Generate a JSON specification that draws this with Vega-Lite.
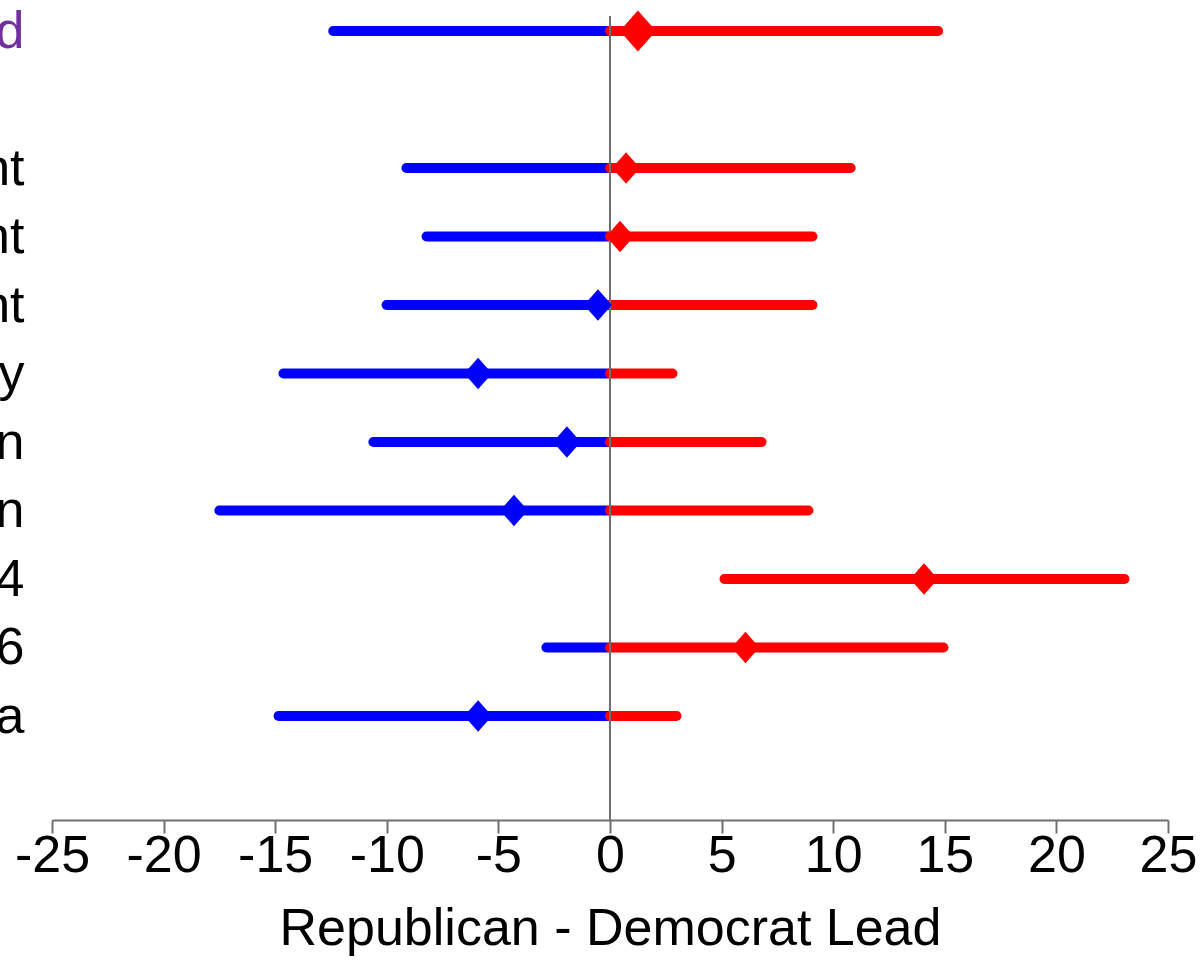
{
  "$schema": "https://vega.github.io/schema/vega-lite/v6.json",
  "autosize": {"type": "none"},
  "padding": {"left": 52, "top": 16, "right": 33, "bottom": 140},
  "width": 1116,
  "height": 804,
  "background": "#ffffff",
  "config": {
    "view": {"stroke": null},
    "font": "Liberation Sans"
  },
  "data": {
    "values": [
      {"race": "Combined", "group": "Combined", "lo": -12.4, "hi": 14.7, "est": 1.25},
      {"race": "Generic Ballot Environment", "group": "Race", "lo": -9.12, "hi": 10.78, "est": 0.72},
      {"race": "Presidential Environment", "group": "Race", "lo": -8.22, "hi": 9.07, "est": 0.45},
      {"race": "Congressional Environment", "group": "Race", "lo": -10.01, "hi": 9.07, "est": -0.54},
      {"race": "Kentucky", "group": "Race", "lo": -14.63, "hi": 2.8, "est": -5.91},
      {"race": "Wisconsin", "group": "Race", "lo": -10.6, "hi": 6.79, "est": -1.93},
      {"race": "Michigan", "group": "Race", "lo": -17.5, "hi": 8.89, "est": -4.3},
      {"race": "Kansas 4", "group": "Race", "lo": 5.13, "hi": 23.05, "est": 14.07},
      {"race": "Georgia 6", "group": "Race", "lo": -2.85, "hi": 14.94, "est": 6.07},
      {"race": "Alabama", "group": "Race", "lo": -14.85, "hi": 2.98, "est": -5.91}
    ]
  },
  "layer": [
    {
      "transform": [{"filter": "datum.lo < 0"}],
      "mark": {"type": "rule", "color": "#0000FF", "strokeWidth": 10, "strokeCap": "round"},
      "encoding": {
        "y": {
          "field": "race", "type": "nominal",
          "scale": {
            "type": "point",
            "padding": 0,
            "domain": ["Combined", " ", "Generic Ballot Environment", "Presidential Environment", "Congressional Environment", "Kentucky", "Wisconsin", "Michigan", "Kansas 4", "Georgia 6", "Alabama"],
            "range": [15, 700]
          },
          "axis": {
            "title": null,
            "domain": false,
            "ticks": false,
            "grid": false,
            "labelPadding": 28,
            "labelFont": "Liberation Sans",
            "labelFontSize": 52,
            "labelAlign": "right",
            "labelBaseline": "middle",
            "labelLimit": 0,
            "labelOverlap": false,
            "labelColor": {"condition": {"test": "datum.value == 'Combined'", "value": "#7030A0"}, "value": "#000000"}
          }
        },
        "x": {
          "field": "lo", "type": "quantitative",
          "scale": {"domain": [-25, 25], "nice": false, "zero": false},
          "axis": {
            "title": "Republican - Democrat Lead",
            "values": [-25, -20, -15, -10, -5, 0, 5, 10, 15, 20, 25],
            "labelExpr": "'' + datum.value",
            "grid": false,
            "domainColor": "#707070",
            "domainWidth": 2,
            "tickColor": "#707070",
            "tickWidth": 2,
            "tickSize": 13,
            "labelFont": "Liberation Sans",
            "labelFontSize": 52,
            "labelColor": "#000000",
            "labelPadding": -3,
            "labelFlush": false,
            "labelOverlap": false,
            "titleFont": "Liberation Sans",
            "titleFontSize": 52,
            "titleFontWeight": "normal",
            "titleColor": "#000000",
            "titlePadding": 22
          }
        },
        "x2": {"datum": 0}
      }
    },
    {
      "transform": [{"filter": "datum.lo < 0"}],
      "mark": {"type": "rule", "color": "#FF0000", "strokeWidth": 10, "strokeCap": "round"},
      "encoding": {
        "y": {"field": "race", "type": "nominal"},
        "x": {"field": "hi", "type": "quantitative"},
        "x2": {"datum": 0}
      }
    },
    {
      "transform": [{"filter": "datum.lo >= 0"}],
      "mark": {"type": "rule", "color": "#FF0000", "strokeWidth": 10, "strokeCap": "round"},
      "encoding": {
        "y": {"field": "race", "type": "nominal"},
        "x": {"field": "lo", "type": "quantitative"},
        "x2": {"field": "hi"}
      }
    },
    {
      "data": {"values": [{"lead": 0}]},
      "mark": {"type": "rule", "color": "#707070", "strokeWidth": 2},
      "encoding": {
        "x": {"field": "lead", "type": "quantitative"}
      }
    },
    {
      "mark": {"type": "point", "filled": true, "opacity": 1, "strokeWidth": 0, "shape": "M0,-1L0.88,0L0,1L-0.88,0Z"},
      "encoding": {
        "y": {"field": "race", "type": "nominal"},
        "x": {"field": "est", "type": "quantitative"},
        "size": {
          "field": "group", "type": "nominal",
          "scale": {"domain": ["Combined", "Race"], "range": [1700, 1000]},
          "legend": null
        },
        "fill": {
          "condition": {"test": "datum.est > 0", "value": "#FF0000"},
          "value": "#0000FF"
        }
      }
    }
  ]
}
